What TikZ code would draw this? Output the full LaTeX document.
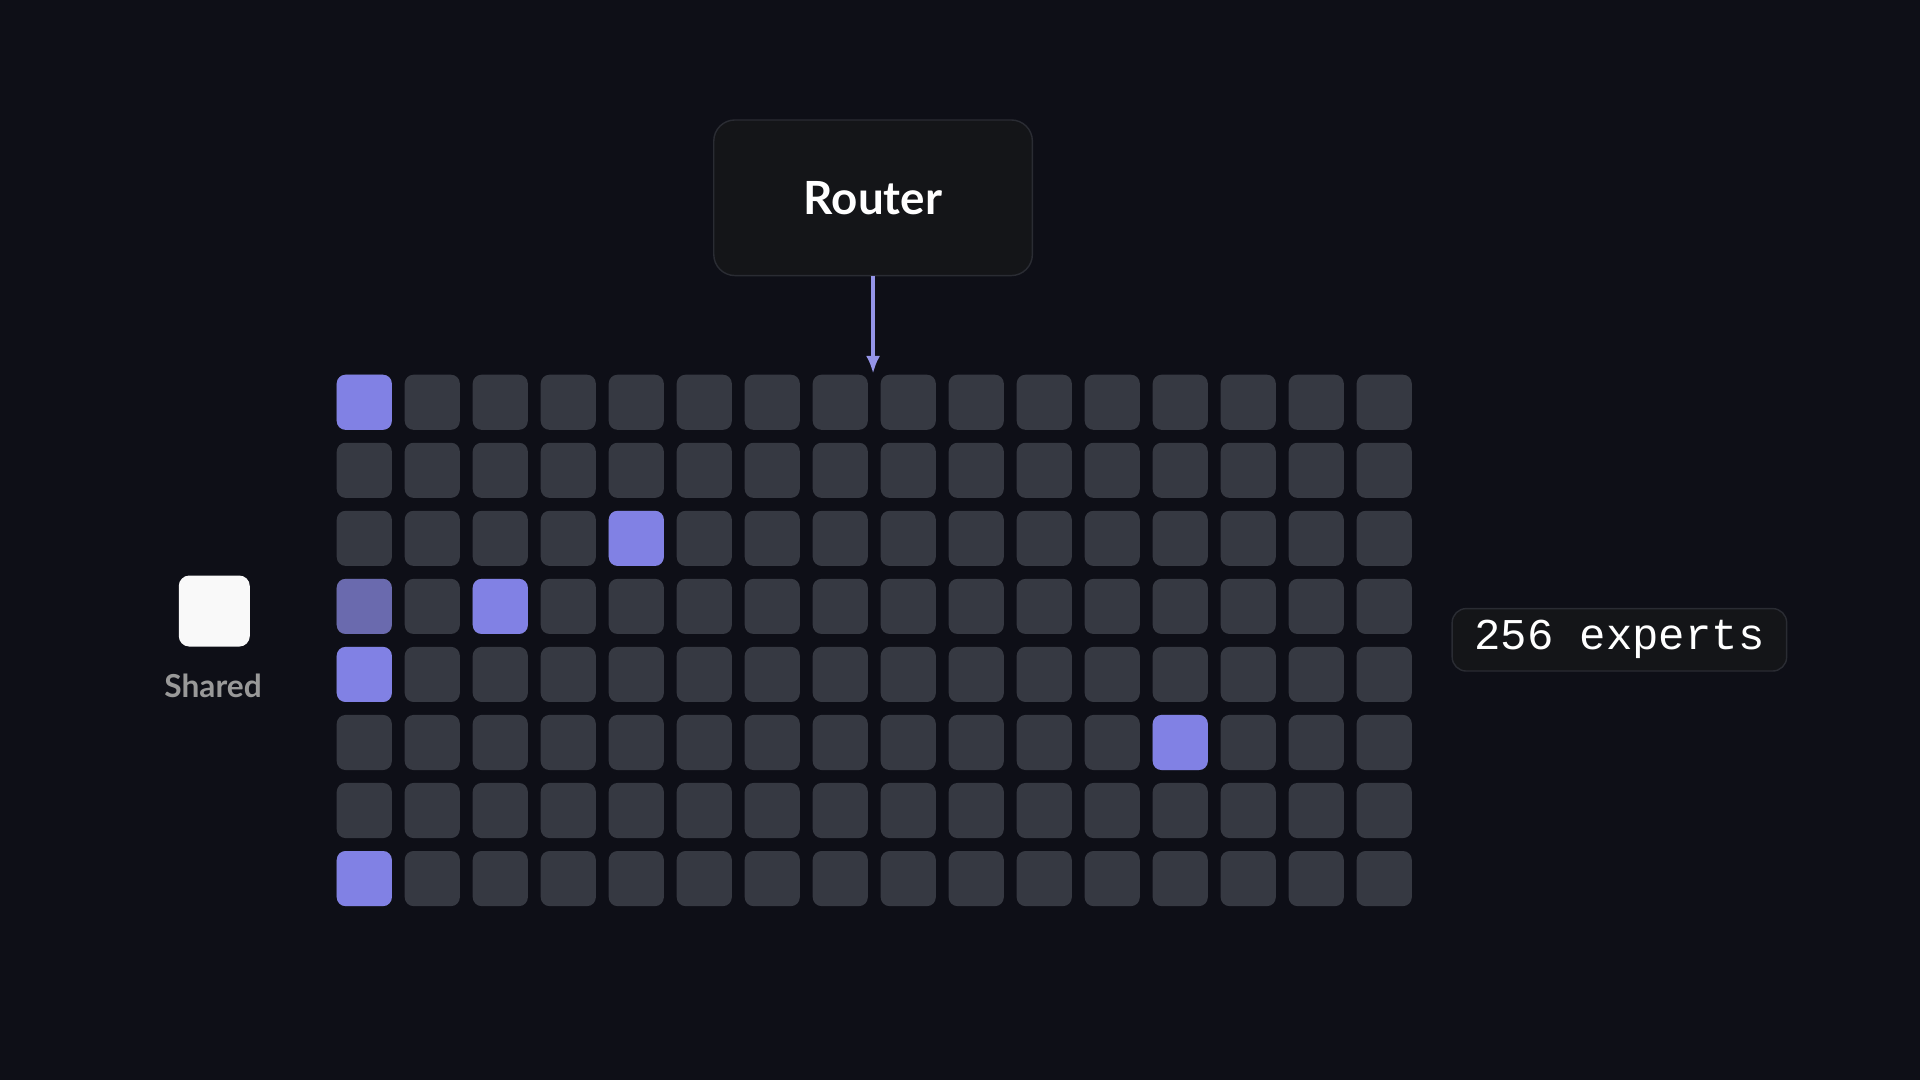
\documentclass[tikz,border=0pt]{standalone}
\usepackage{fontspec}
\usetikzlibrary{arrows.meta}
\setmainfont{Lato}
\newfontfamily\monof{Liberation Mono}
\begin{document}
\begin{tikzpicture}[x=0.012245cm,y=-0.012245cm]
\definecolor{bgc}{HTML}{0E0F17}
\definecolor{cellc}{HTML}{363942}
\definecolor{hotc}{HTML}{8181E4}
\definecolor{dimc}{HTML}{6A6AAE}
\definecolor{boxc}{HTML}{141518}
\definecolor{boxb}{HTML}{2A2C33}
\fill[bgc] (0,0) rectangle (1568,882);
\useasboundingbox (0,0) rectangle (1568,882);
\foreach \r in {0,...,7}{\foreach \c in {0,...,15}{
  \fill[cellc,rounded corners=2.5pt] ({275+55.53*\c},{306+55.57*\r}) rectangle ++(45,45);}}
\foreach \r/\c in {0/0,2/4,3/2,4/0,5/12,7/0}{
  \fill[hotc,rounded corners=2.5pt] ({275+55.53*\c},{306+55.57*\r}) rectangle ++(45,45);}
\fill[dimc,rounded corners=2.5pt] (275,{306+55.57*3}) rectangle ++(45,45);
\node[draw=boxb,fill=boxc,rounded corners=6pt,minimum width=3.184cm,minimum height=1.555cm,inner sep=0,font=\bfseries\fontsize{13}{15}\selectfont,text=white] (router) at (713,161.5) {Router};
\coordinate (gridtop) at (713,305);
\draw[hotc!85!white,line width=0.9pt,-{Latex[length=5pt,width=4pt]}] (router.south) -- (gridtop);
\node[fill=white!95!gray,rounded corners=3pt,minimum width=0.71cm,minimum height=0.71cm,inner sep=0] (shared) at (175,499) {};
\node[text=gray!80!white,font=\bfseries\fontsize{9}{11}\selectfont] (sl) at (174,560) {Shared};
\node[draw=boxb,fill=boxc,rounded corners=4pt,minimum width=3.343cm,minimum height=0.624cm,inner sep=0,text=white,font=\monof\fontsize{12.5}{14}\selectfont] (exp) at (1322.5,522.5) {256 experts};
\end{tikzpicture}
\end{document}
